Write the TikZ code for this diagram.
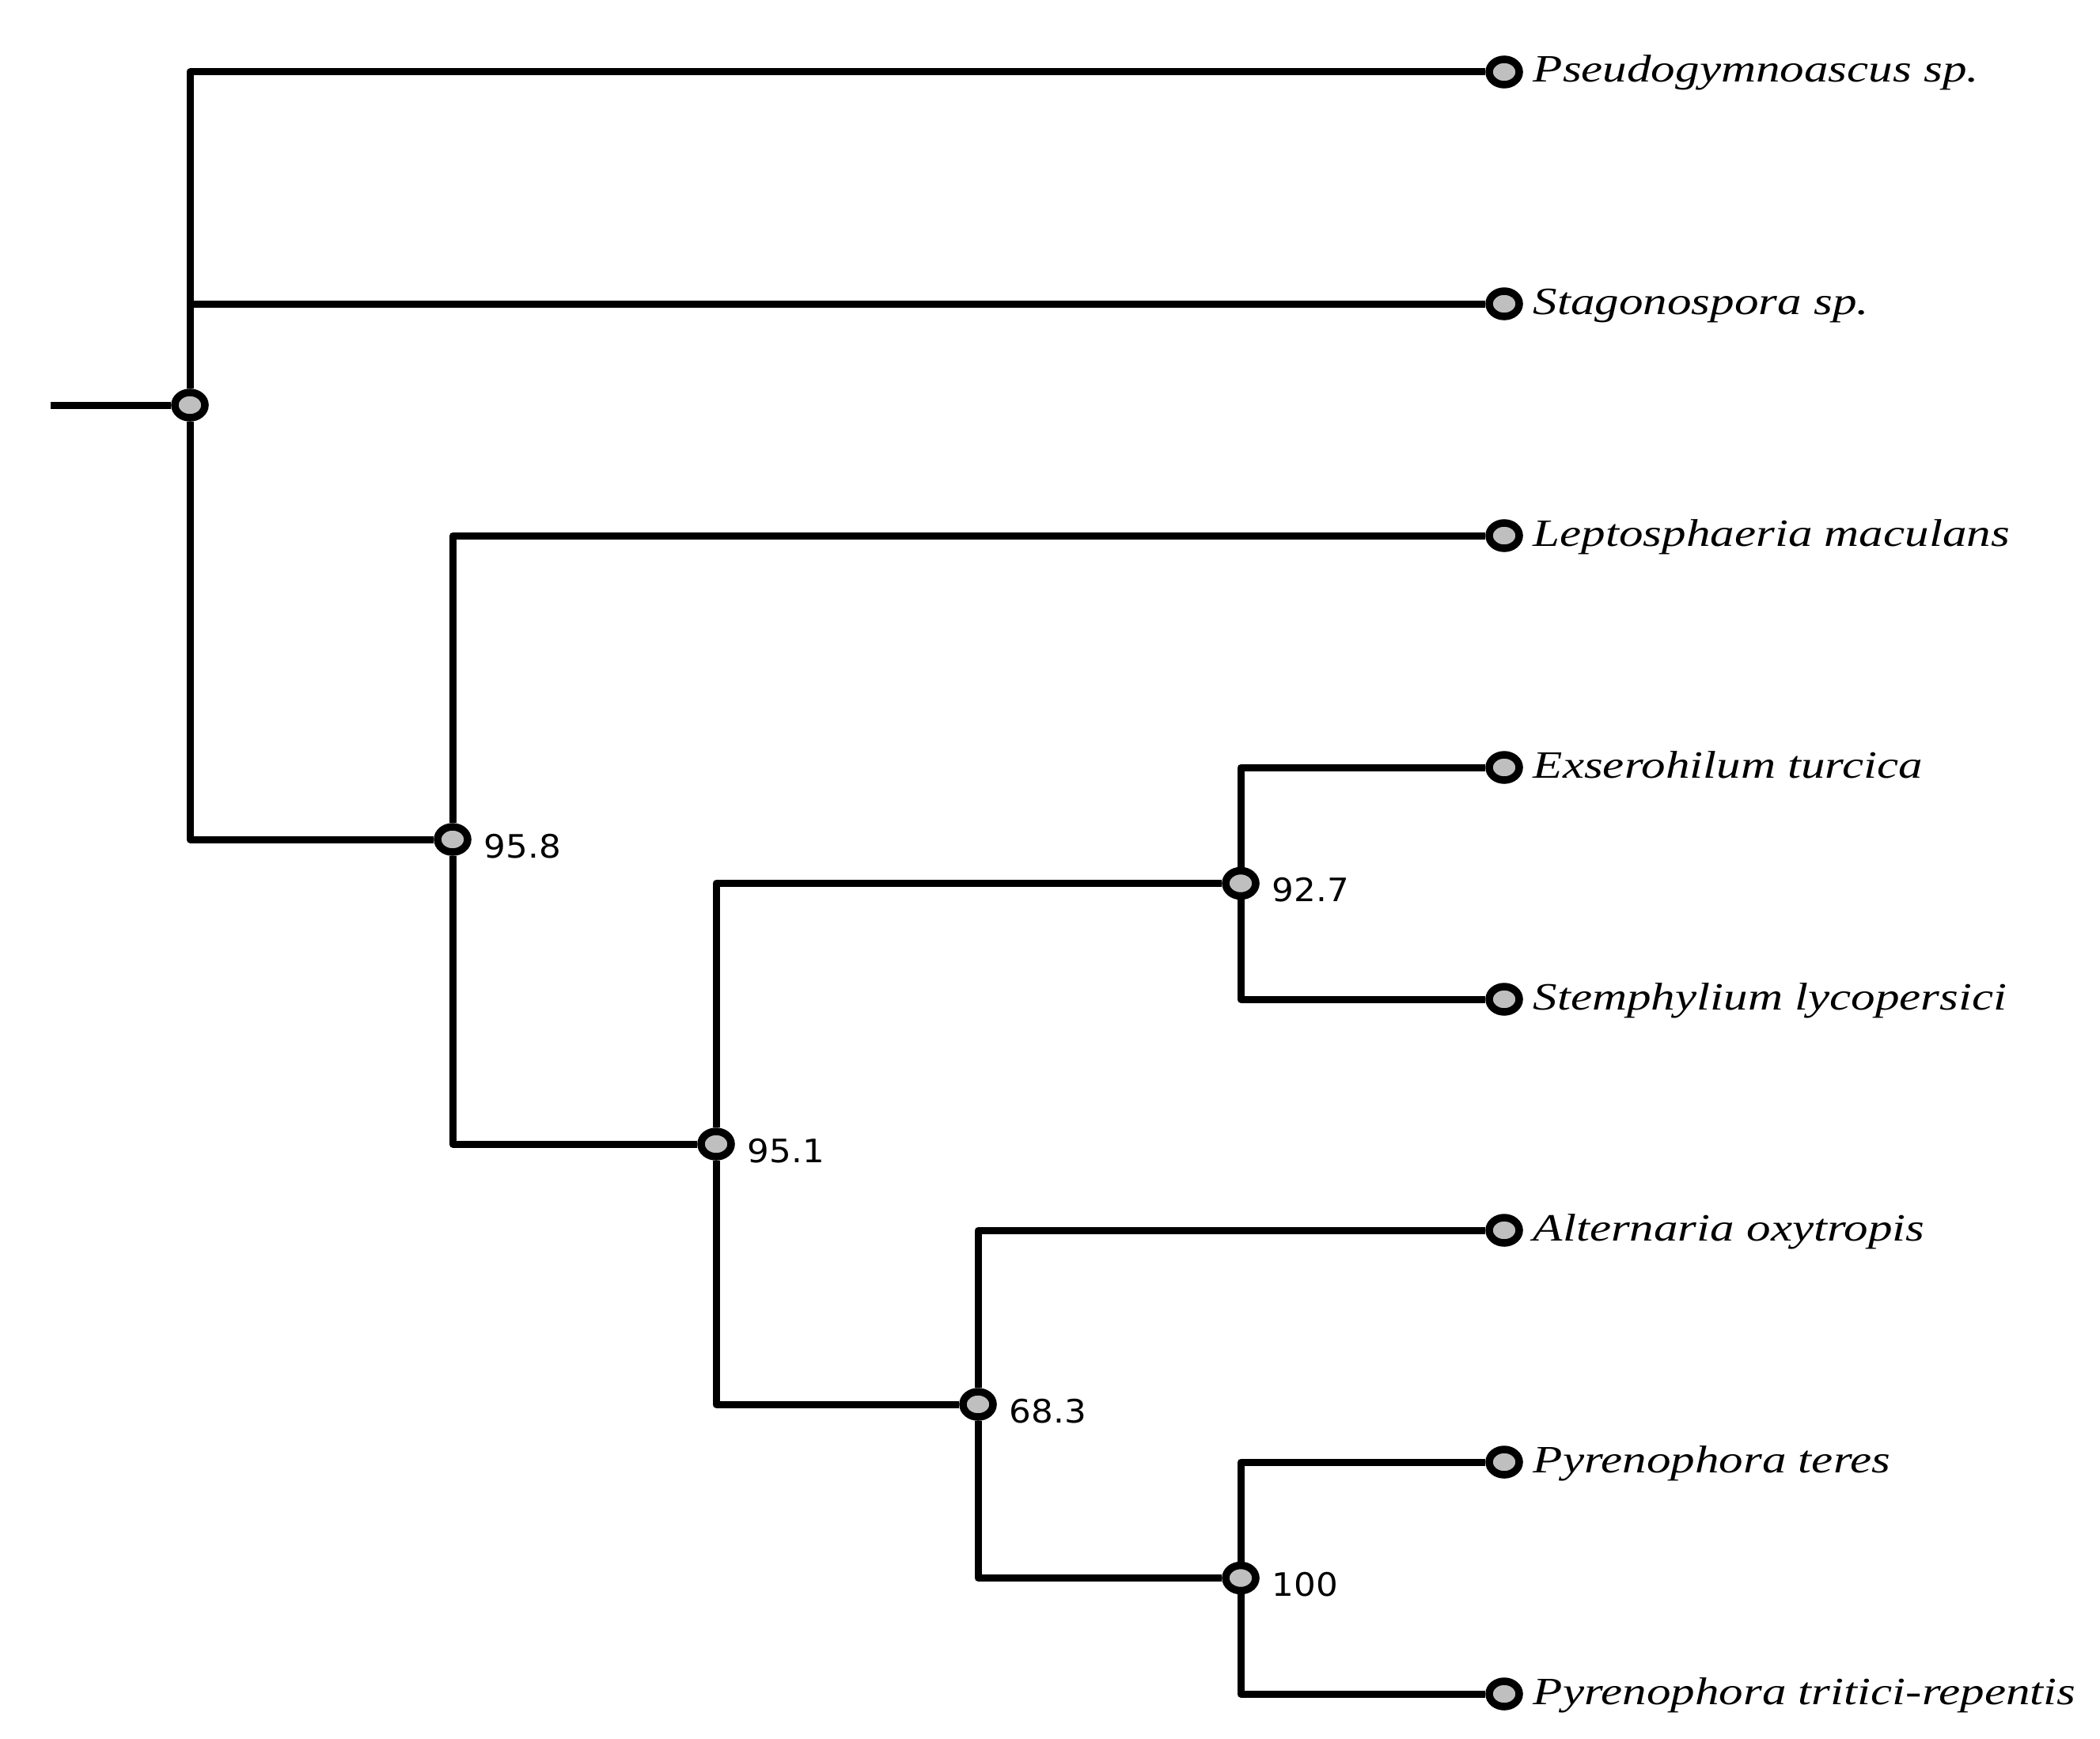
\documentclass[tikz,border=0pt]{standalone}
\usepackage{fontspec}
\setmainfont{Liberation Serif}
\newfontfamily\taxonfont[FakeStretch=1.25]{Liberation Serif}
\newfontfamily\numfont[FakeStretch=1.07]{DejaVu Sans}
\usetikzlibrary{shapes.geometric}
\begin{document}
\begin{tikzpicture}[x=1cm,y=-1cm]
% Configuración de estilos
\tikzstyle{branch} = [line width=0.09cm, line join=round]
\tikzstyle{inode} = [ellipse, draw=black, fill=gray!50, line width=0.095cm, minimum width=0.38cm, minimum height=0.32cm, inner sep=0pt]
\tikzstyle{leaf} = [inode]
\tikzstyle{taxon} = [anchor=base west, inner sep=0pt, font=\taxonfont\fontsize{13.9}{16}\selectfont\itshape]
\tikzstyle{support} = [anchor=base west, inner sep=0pt, font=\numfont\fontsize{11.6}{13}\selectfont]

\useasboundingbox (0,0) rectangle (26.54,21.97);

% Hojas
\node[leaf] (pseudo) at (19.01,0.91) {};
\node[leaf] (stago) at (19.01,3.84) {};
\node[leaf] (lepto) at (19.01,6.77) {};
\node[leaf] (exsero) at (19.01,9.70) {};
\node[leaf] (stemph) at (19.01,12.63) {};
\node[leaf] (altern) at (19.01,15.55) {};
\node[leaf] (pteres) at (19.01,18.48) {};
\node[leaf] (ptritici) at (19.01,21.41) {};

\node[taxon] at ([xshift=0.36cm,yshift=-0.13cm]pseudo.center) {Pseudogymnoascus sp.};
\node[taxon] at ([xshift=0.36cm,yshift=-0.13cm]stago.center) {Stagonospora sp.};
\node[taxon] at ([xshift=0.36cm,yshift=-0.13cm]lepto.center) {Leptosphaeria maculans};
\node[taxon] at ([xshift=0.36cm,yshift=-0.13cm]exsero.center) {Exserohilum turcica};
\node[taxon] at ([xshift=0.36cm,yshift=-0.13cm]stemph.center) {Stemphylium lycopersici};
\node[taxon] at ([xshift=0.36cm,yshift=-0.13cm]altern.center) {Alternaria oxytropis};
\node[taxon] at ([xshift=0.36cm,yshift=-0.13cm]pteres.center) {Pyrenophora teres};
\node[taxon] at ([xshift=0.36cm,yshift=-0.13cm]ptritici.center) {Pyrenophora tritici-repentis};

% Nodos internos
\coordinate (stub) at (0.64,5.12);
\node[inode] (root) at (2.40,5.12) {};
\node[inode] (c958) at (5.72,10.61) {};
\node[inode] (c951) at (9.05,14.46) {};
\node[inode] (c927) at (15.68,11.165) {};
\node[inode] (c683) at (12.36,17.75) {};
\node[inode] (c100) at (15.68,19.945) {};

\node[support] at ([xshift=0.39cm,yshift=-0.23cm]c958.center) {95.8};
\node[support] at ([xshift=0.39cm,yshift=-0.23cm]c951.center) {95.1};
\node[support] at ([xshift=0.39cm,yshift=-0.23cm]c927.center) {92.7};
\node[support] at ([xshift=0.39cm,yshift=-0.23cm]c683.center) {68.3};
\node[support] at ([xshift=0.39cm,yshift=-0.23cm]c100.center) {100};

% Ramas
\draw[branch] (stub) -- (root);
\draw[branch] (root) |- (pseudo);
\draw[branch] (root) |- (stago);
\draw[branch] (root) |- (c958);
\draw[branch] (c958) |- (lepto);
\draw[branch] (c958) |- (c951);
\draw[branch] (c951) |- (c927);
\draw[branch] (c951) |- (c683);
\draw[branch] (c927) |- (exsero);
\draw[branch] (c927) |- (stemph);
\draw[branch] (c683) |- (altern);
\draw[branch] (c683) |- (c100);
\draw[branch] (c100) |- (pteres);
\draw[branch] (c100) |- (ptritici);
\end{tikzpicture}
\end{document}
